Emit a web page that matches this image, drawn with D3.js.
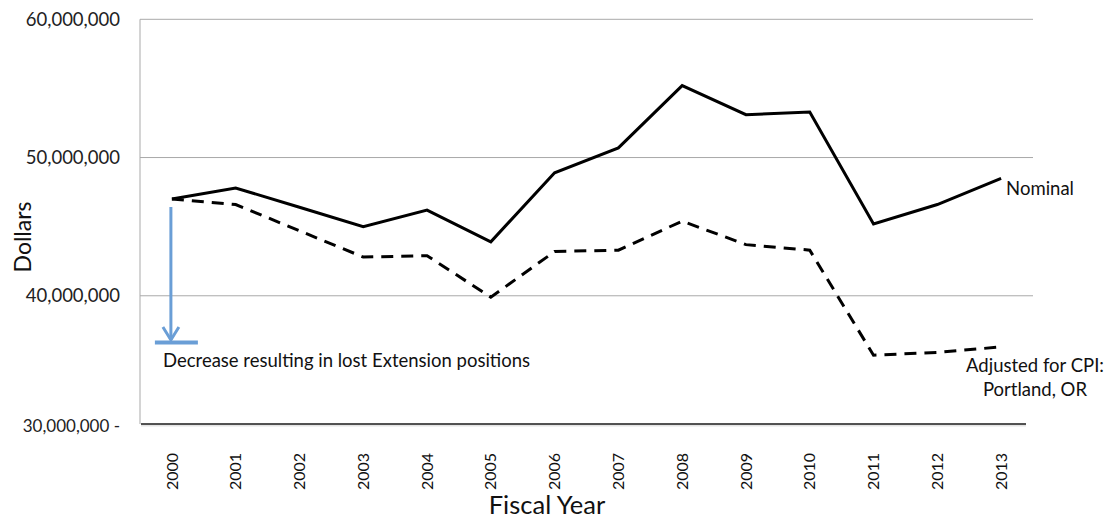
<!DOCTYPE html>
<html>
<head>
<meta charset="utf-8">
<script src="https://cdn.jsdelivr.net/npm/d3@7"></script>
<style>
  html, body { margin: 0; padding: 0; background: #fff; }
  svg { display: block; font-family: Lato, "Open Sans", sans-serif; }
</style>
</head>
<body>
<svg id="chart" width="1109" height="521"></svg>
<script>
// ---- data ----
const years = ["2000","2001","2002","2003","2004","2005","2006","2007","2008","2009","2010","2011","2012","2013"];
const nominal = [47.0e6, 47.8e6, 46.4e6, 45.0e6, 46.2e6, 43.9e6, 48.9e6, 50.7e6, 55.2e6, 53.1e6, 53.3e6, 45.2e6, 46.6e6, 48.5e6];
const adjustedCPI = [47.0e6, 46.6e6, 44.7e6, 42.8e6, 42.9e6, 39.9e6, 43.2e6, 43.3e6, 45.4e6, 43.7e6, 43.3e6, 35.7e6, 35.9e6, 36.3e6];
const yTicks = [30e6, 40e6, 50e6, 60e6];
const seriesNames = ["Nominal", "Adjusted for CPI:", "Portland, OR"];
const annotationText = "Decrease resulting in lost Extension positions";
const xTitle = "Fiscal Year";
const yTitle = "Dollars";

// ---- layout ----
const svg = d3.select("#chart");
const plotLeft = 140, plotRight = 1033, plotTop = 19.3, plotBottom = 434, axisY = 424;
const fs = 18.5;

const x = d3.scaleBand().domain(years).range([plotLeft, plotRight]);
const y = d3.scaleLinear().domain([30e6, 60e6]).range([plotBottom, plotTop]);
const cx = d => x(d) + x.bandwidth() / 2;

svg.append("rect").attr("width", 1109).attr("height", 521).attr("fill", "#fff");

// gridlines
svg.append("g").selectAll("line")
  .data(yTicks.filter(t => t > 30e6))
  .join("line")
  .attr("x1", plotLeft).attr("x2", plotRight)
  .attr("y1", d => y(d)).attr("y2", d => y(d))
  .attr("stroke", "#a9a9a9").attr("stroke-width", 1);

// left axis line
svg.append("line")
  .attr("x1", plotLeft).attr("x2", plotLeft)
  .attr("y1", y(60e6)).attr("y2", axisY)
  .attr("stroke", "#a9a9a9").attr("stroke-width", 1);

// y axis labels
const fmt = d3.format(",");
const yAxis = d3.axisLeft(y).tickValues(yTicks).tickSize(0).tickPadding(0)
  .tickFormat(d => d === 30e6 ? fmt(d) + " -" : fmt(d));
const gy = svg.append("g").attr("transform", `translate(120,0)`).call(yAxis);
gy.select(".domain").remove();
gy.selectAll("text").attr("font-size", fs).attr("fill", "#222")
  .attr("font-family", "Lato, sans-serif");
gy.select(".tick:first-of-type text").attr("font-size", 17).attr("dy", "-0.15em");

// bottom axis line
svg.append("line")
  .attr("x1", plotLeft + 1).attr("x2", 1026)
  .attr("y1", axisY + 1.5).attr("y2", axisY + 1.5)
  .attr("stroke", "#e4e4e4").attr("stroke-width", 2);
svg.append("line")
  .attr("x1", plotLeft + 1).attr("x2", 1026)
  .attr("y1", axisY).attr("y2", axisY)
  .attr("stroke", "#1a1a1a").attr("stroke-width", 1.3);

// x axis labels
const xAxis = d3.axisBottom(x).tickSize(0).tickPadding(0);
const gx = svg.append("g").call(xAxis);
gx.select(".domain").remove();
gx.selectAll(".tick text")
  .attr("transform", "translate(0,471.5) rotate(-90)")
  .attr("x", 0).attr("y", 0).attr("dy", "0.35em")
  .attr("text-anchor", "middle")
  .attr("font-size", 16).attr("fill", "#111")
  .attr("font-family", "Lato, sans-serif");

// lines
const line = d3.line().x((d, i) => cx(years[i])).y(d => y(d));
svg.append("path").datum(adjustedCPI)
  .attr("d", line).attr("fill", "none")
  .attr("stroke", "#000").attr("stroke-width", 3)
  .attr("stroke-dasharray", "12,8");
svg.append("path").datum(nominal)
  .attr("d", line).attr("fill", "none")
  .attr("stroke", "#000").attr("stroke-width", 3)
  .attr("stroke-linejoin", "miter");

// series labels
const last = years[years.length - 1];
svg.append("text").text(seriesNames[0])
  .attr("x", cx(last) + 5).attr("y", y(nominal[nominal.length - 1]) + 10)
  .attr("dy", "0.35em").attr("font-size", fs).attr("fill", "#111");
svg.append("text").text(seriesNames[1])
  .attr("x", 1035).attr("y", 366).attr("dy", "0.35em")
  .attr("text-anchor", "middle").attr("font-size", fs).attr("fill", "#111");
svg.append("text").text(seriesNames[2])
  .attr("x", 1035).attr("y", 390).attr("dy", "0.35em")
  .attr("text-anchor", "middle").attr("font-size", fs).attr("fill", "#111");

// annotation arrow
const ax = cx(years[0]) - 1;
const blue = "#6a9ed6";
const aTop = y(nominal[0]) + 8, aBot = 340;
svg.append("line").attr("x1", ax).attr("x2", ax).attr("y1", aTop).attr("y2", aBot)
  .attr("stroke", blue).attr("stroke-width", 3);
svg.append("path")
  .attr("d", `M${ax - 8},${aBot - 13} L${ax},${aBot} L${ax + 8},${aBot - 13}`)
  .attr("fill", "none").attr("stroke", blue).attr("stroke-width", 3);
svg.append("line").attr("x1", ax - 16).attr("x2", ax + 27).attr("y1", aBot + 2.5).attr("y2", aBot + 2.5)
  .attr("stroke", blue).attr("stroke-width", 4);
svg.append("text").text(annotationText)
  .attr("x", 163).attr("y", 361).attr("dy", "0.35em")
  .attr("font-size", fs).attr("fill", "#111");

// titles
svg.append("text").text(xTitle)
  .attr("x", 547).attr("y", 505).attr("dy", "0.35em")
  .attr("text-anchor", "middle").attr("font-size", 25.5).attr("fill", "#111");
svg.append("text").text(yTitle)
  .attr("transform", "translate(23,237) rotate(-90)")
  .attr("dy", "0.35em")
  .attr("text-anchor", "middle").attr("font-size", 23).attr("fill", "#111");
</script>
</body>
</html>
